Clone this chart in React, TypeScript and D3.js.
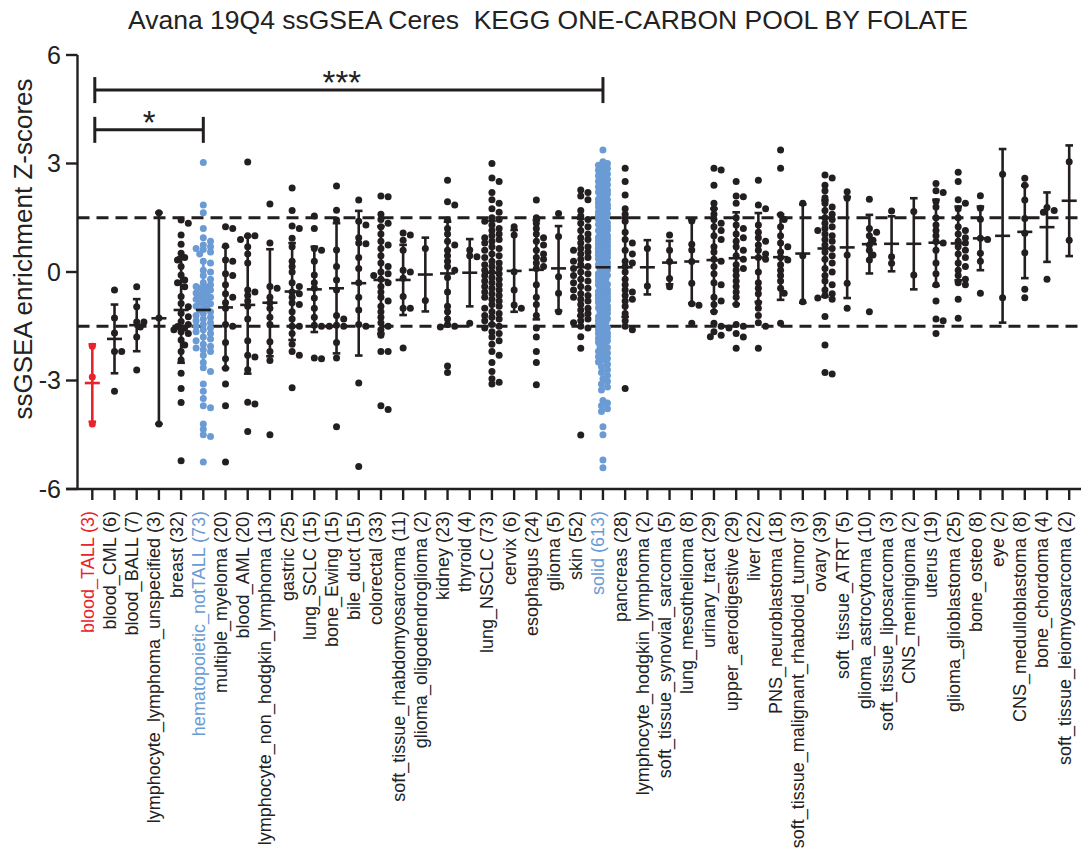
import * as d3 from 'd3'

const TITLE = 'Avana 19Q4 ssGSEA Ceres  KEGG ONE-CARBON POOL BY FOLATE'
const Y_LABEL = 'ssGSEA enrichment Z-scores'

const categories = [
  'blood_TALL', 'blood_CML', 'blood_BALL', 'lymphocyte_lymphoma_unspecified', 'breast',
  'hematopoietic_notTALL', 'multiple_myeloma', 'blood_AML', 'lymphocyte_non_hodgkin_lymphoma', 'gastric',
  'lung_SCLC', 'bone_Ewing', 'bile_duct', 'colorectal', 'soft_tissue_rhabdomyosarcoma',
  'glioma_oligodendroglioma', 'kidney', 'thyroid', 'lung_NSCLC', 'cervix',
  'esophagus', 'glioma', 'skin', 'solid', 'pancreas',
  'lymphocyte_hodgkin_lymphoma', 'soft_tissue_synovial_sarcoma', 'lung_mesothelioma', 'urinary_tract', 'upper_aerodigestive',
  'liver', 'PNS_neuroblastoma', 'soft_tissue_malignant_rhabdoid_tumor', 'ovary', 'soft_tissue_ATRT',
  'glioma_astrocytoma', 'soft_tissue_liposarcoma', 'CNS_meningioma', 'uterus', 'glioma_glioblastoma',
  'bone_osteo', 'eye', 'CNS_medulloblastoma', 'bone_chordoma', 'soft_tissue_leiomyosarcoma',
]
const counts = [
  3, 6, 7, 3, 32, 73, 20, 20, 13, 25, 15, 15, 15, 33, 11, 2, 23, 4, 73, 6, 24, 5, 52, 613, 28,
  2, 5, 8, 29, 29, 22, 18, 3, 39, 5, 10, 3, 2, 19, 25, 8, 2, 8, 4, 2,
]
const means = [
  -3.07, -1.85, -1.47, -1.28, -1.05, -1.05, -0.98, -0.91, -0.85, -0.54, -0.48, -0.45, -0.31, -0.22, -0.22,
  -0.07, -0.04, -0.02, -0.02, 0.03, 0.06, 0.1, 0.13, 0.13, 0.13, 0.13, 0.26, 0.29, 0.33, 0.38,
  0.4, 0.41, 0.51, 0.65, 0.68, 0.77, 0.78, 0.78, 0.81, 0.79, 0.93, 1.0, 1.11, 1.24, 1.97,
]
const sds = [
  1.07, 0.95, 0.72, 2.92, 1.46, 1.4, 1.68, 1.9, 1.48, 1.34, 1.18, 1.8, 2.0, 1.48, 0.97,
  1.02, 1.43, 0.93, 1.43, 1.13, 1.37, 1.17, 1.34, 1.4, 1.37, 0.75, 0.6, 1.16, 1.42, 1.27,
  1.23, 1.18, 1.36, 1.33, 1.4, 0.81, 0.76, 1.26, 1.19, 1.02, 0.88, 2.4, 1.28, 0.96, 1.53,
]

const solidValues = [
  3.37, 3.05, 3.0, 2.95, 2.9,
  2.86, 2.81, 2.76, 2.71, 2.66, 2.61, 2.56, 2.51, 2.46, 2.41, 2.36, 2.31, 2.26, 2.21, 2.16, 2.11, 2.06, 2.01,
  1.96, 1.91, 1.86, 1.81, 1.76, 1.71, 1.66, 1.61, 1.56, 1.51, 1.46, 1.41, 1.36, 1.31, 1.26, 1.21, 1.16, 1.11,
  1.06, 1.01, 0.96, 0.91, 0.86, 0.81, 0.76, 0.71, 0.66, 0.61, 0.56, 0.51, 0.46, 0.41, 0.36, 0.31, 0.26, 0.21,
  0.16, 0.11, 0.06, 0.01, -0.04, -0.09, -0.14, -0.19, -0.24, -0.29, -0.34, -0.39, -0.44, -0.49, -0.54, -0.59,
  -0.64, -0.69, -0.74, -0.79, -0.84, -0.89, -0.94, -0.99, -1.04, -1.09, -1.14, -1.19, -1.24, -1.29, -1.34,
  -1.39, -1.44, -1.49, -1.54, -1.59, -1.64, -1.69, -1.74, -1.79, -1.84, -1.89, -1.94, -1.99, -2.04, -2.09,
  -2.14, -2.19, -2.24, -2.29, -2.34, -2.39, -2.44, -2.49, -2.55, -2.62,
  2.2, 2.0, 1.8, 1.7, 1.6, 1.5, 1.4, 1.3, 1.2, 1.1, 1.0, 0.9, 0.8, 0.7, 0.6, 0.5, 0.4, 0.3, 0.2, 0.1, 0.0,
  -0.1, -0.2, -0.3, -0.4, -0.5, -0.6, -0.7, -0.8, -0.9, -1.0, -1.1, -1.2, -1.3, -1.4, -1.5, -1.7, -1.9,
  1.25, 1.15, 1.05, 0.95, 0.85, 0.75, 0.65, 0.55, 0.45, -0.35, -0.45, -0.55, -0.65, -0.75,
  -2.7, -2.78, -2.86, -2.95, -3.02, -3.1, -3.18, -3.26, -3.55, -3.62, -3.7, -3.78, -3.86, -4.28, -4.5, -5.2, -5.41,
]

const values: number[][] = [
  [-2.05, -2.9, -4.2],
  [-0.5, -1.27, -1.69, -2.2, -2.2, -3.3],
  [-0.41, -0.96, -1.38, -1.38, -1.52, -1.8, -2.71],
  [1.64, -1.27, -4.2],
  [1.44, 1.35, 1.02, 0.77, 0.52, 0.4, 0.33, 0.15, -0.08, -0.22, -0.3, -0.41, -0.68, -0.87, -0.96, -1.14,
    -1.24, -1.37, -1.45, -1.51, -1.55, -1.6, -1.65, -1.7, -1.88, -2.02, -2.2, -2.43, -2.8, -3.22, -3.61, -5.22],
  [3.03, 1.85, 1.64, 1.2, 0.95, 0.85, 0.75, 0.7, 0.65, 0.62, 0.55, 0.5, 0.3, 0.25, 0.05, 0.0, -0.1, -0.2,
    -0.3, -0.35, -0.4, -0.42, -0.45, -0.5, -0.55, -0.58, -0.6, -0.65, -0.7, -0.72, -0.75, -0.8, -0.85, -0.88,
    -0.9, -0.95, -1.0, -1.05, -1.1, -1.15, -1.2, -1.25, -1.3, -1.35, -1.4, -1.45, -1.5, -1.55, -1.6, -1.65,
    -1.7, -1.8, -1.85, -1.9, -2.0, -2.05, -2.1, -2.15, -2.2, -2.3, -2.5, -2.65, -2.75, -3.1, -3.3, -3.5, -3.7,
    -3.75, -4.2, -4.35, -4.5, -4.55, -5.25],
  [1.25, 1.2, 0.72, 0.33, 0.3, -0.05, -0.1, -0.35, -0.6, -0.7, -0.85, -1.0, -1.5, -1.95, -2.4, -2.66, -3.1,
    -3.7, -5.25, -1.45],
  [3.04, 1.0, 1.0, 0.9, 0.7, 0.5, 0.25, -0.5, -0.55, -0.65, -0.8, -0.95, -1.3, -1.9, -2.3, -2.35, -2.7, -3.6,
    -3.65, -4.41],
  [1.88, 0.8, -0.4, -0.45, -0.7, -0.85, -1.0, -1.25, -1.45, -1.93, -2.2, -2.45, -4.5],
  [2.32, 1.7, 1.27, 1.2, 0.93, 0.7, 0.3, 0.15, 0.0, -0.3, -0.4, -0.55, -0.6, -0.7, -0.85, -0.9, -1.1, -1.3,
    -1.5, -1.5, -1.7, -2.0, -2.2, -2.3, -3.2],
  [1.55, 1.2, 0.65, 0.6, 0.3, -0.08, -0.3, -0.45, -0.72, -1.0, -1.25, -1.47, -1.5, -2.38, -2.4],
  [2.38, 1.71, 1.44, 0.61, 0.15, -0.22, -0.5, -1.2, -1.3, -1.47, -1.5, -1.5, -1.95, -2.38, -4.28],
  [1.99, 1.4, 1.3, 0.95, 0.8, 0.78, 0.4, 0.1, -0.3, -0.7, -1.05, -1.45, -1.5, -3.07, -5.38],
  [2.1, 2.08, 1.6, 1.45, 1.35, 1.25, 1.05, 0.85, 0.75, 0.65, 0.45, 0.25, 0.15, -0.05, -0.1, -0.2, -0.3,
    -0.4, -0.55, -0.7, -0.8, -0.95, -1.1, -1.25, -1.4, -1.5, -1.6, -1.75, -2.2, -2.2, -3.7, -3.8, 0.0],
  [1.08, 1.02, 0.88, 0.6, 0.05, 0.0, -0.17, -0.68, -1.0, -1.0, -2.1],
  [0.65, -0.79],
  [2.54, 1.94, 1.85, 1.44, 1.2, 1.05, 0.85, 0.75, 0.6, 0.45, 0.3, 0.15, 0.05, -0.15, -0.55, -0.95, -1.1,
    -1.3, -1.45, -1.5, -1.52, -2.6, -2.78],
  [0.61, 0.45, 0.42, -1.42],
  [3.0, 2.6, 2.5, 2.2, 2.0, 1.9, 1.75, 1.65, 1.5, 1.45, 1.4, 1.3, 1.2, 1.15, 1.05, 1.0, 0.95, 0.9, 0.85,
    0.8, 0.7, 0.65, 0.6, 0.5, 0.45, 0.4, 0.3, 0.25, 0.2, 0.15, 0.1, 0.05, 0.0, -0.05, -0.1, -0.15, -0.2,
    -0.25, -0.3, -0.35, -0.4, -0.45, -0.5, -0.55, -0.6, -0.65, -0.7, -0.75, -0.8, -0.9, -0.95, -1.0, -1.1,
    -1.15, -1.2, -1.25, -1.3, -1.35, -1.45, -1.5, -1.55, -1.65, -1.7, -1.8, -1.9, -2.0, -2.2, -2.3, -2.5,
    -2.75, -2.95, -3.05, -3.1],
  [1.25, 1.02, 0.01, -0.5, -0.91, -1.0],
  [1.99, 1.5, 1.35, 1.2, 1.05, 0.95, 0.85, 0.75, 0.6, 0.5, 0.4, 0.35, 0.25, 0.15, 0.1, -0.35, -0.7, -0.9,
    -1.2, -1.55, -1.8, -2.2, -2.5, -3.12],
  [1.62, 0.98, -0.13, -0.59, -1.1],
  [2.27, 2.2, 2.1, 2.0, 1.7, 1.55, 1.45, 1.35, 1.25, 1.15, 1.05, 0.95, 0.9, 0.8, 0.7, 0.65, 0.6, 0.55, 0.5,
    0.4, 0.35, 0.3, 0.2, 0.15, 0.1, 0.0, -0.05, -0.1, -0.2, -0.25, -0.3, -0.4, -0.45, -0.5, -0.6, -0.65,
    -0.7, -0.75, -0.8, -0.9, -1.0, -1.05, -1.15, -1.2, -1.3, -1.35, -1.4, -1.5, -1.55, -1.79, -2.11, -4.51],
  solidValues,
  [2.87, 2.5, 2.13, 1.75, 1.6, 1.4, 1.1, 0.9, 0.8, 0.6, 0.5, 0.3, 0.25, 0.15, 0.0, -0.2, -0.35, -0.5, -0.55,
    -0.65, -0.75, -0.8, -0.95, -1.15, -1.35, -1.5, -1.6, -3.22],
  [0.65, -0.39],
  [1.02, 0.6, 0.29, -0.18, -0.41],
  [1.41, 0.77, 0.61, 0.29, -0.31, -0.88, -0.92, -1.42],
  [2.87, 2.82, 2.4, 1.9, 1.75, 1.6, 1.45, 1.35, 1.25, 1.15, 1.0, 0.9, 0.7, 0.55, 0.35, 0.3, 0.15, -0.05,
    -0.3, -0.35, -0.7, -0.8, -0.9, -1.1, -1.42, -1.5, -1.65, -1.75, -1.79],
  [2.5, 2.1, 2.08, 1.9, 1.5, 1.3, 1.2, 1.05, 0.95, 0.85, 0.7, 0.6, 0.45, 0.35, 0.2, 0.1, 0.05, -0.1, -0.25,
    -0.4, -0.55, -0.7, -0.9, -1.45, -1.5, -1.55, -1.7, -1.8, -2.11],
  [2.54, 1.85, 1.75, 1.3, 1.1, 0.95, 0.85, 0.75, 0.6, 0.5, 0.4, 0.35, 0.0, -0.3, -0.45, -0.6, -0.85, -1.0,
    -1.2, -1.4, -1.5, -2.11],
  [3.37, 2.87, 1.58, 1.45, 1.25, 1.0, 0.8, 0.7, 0.55, 0.4, 0.33, 0.2, 0.05, -0.1, -0.25, -0.45, -0.59, -1.42],
  [1.9, 0.45, -0.82],
  [2.68, 2.6, 2.4, 2.25, 2.05, 1.9, 1.8, 1.7, 1.6, 1.5, 1.45, 1.35, 1.25, 1.2, 1.15, 1.05, 1.0, 0.9, 0.85,
    0.75, 0.65, 0.55, 0.45, 0.35, 0.25, 0.1, 0.0, -0.1, -0.25, -0.35, -0.5, -0.6, -0.65, -0.72, -0.75,
    -1.23, -2.02, -2.78, -2.82],
  [2.22, 2.04, 0.47, -0.31, -1.0],
  [2.01, 1.2, 1.1, 1.0, 0.88, 0.75, 0.6, 0.47, 0.33, -1.1],
  [1.69, 0.42, 0.24],
  [1.67, -0.08],
  [2.45, 2.25, 2.2, 1.95, 1.8, 1.5, 1.3, 1.15, 1.0, 0.84, 0.8, 0.6, 0.25, -0.05, -0.35, -0.8, -1.3, -1.35, -1.7],
  [2.76, 2.5, 2.0, 1.9, 1.75, 1.5, 1.25, 1.15, 1.05, 0.95, 0.85, 0.8, 0.7, 0.6, 0.5, 0.4, 0.25, 0.15, 0.05,
    -0.1, -0.2, -0.3, -0.35, -0.75, -1.28],
  [2.11, 1.76, 1.46, 0.93, 0.9, 0.52, 0.3, -0.59],
  [2.7, -0.71],
  [2.59, 2.4, 1.99, 1.48, 1.07, 0.53, -0.48, -0.71],
  [1.78, 1.7, 1.65, -0.2],
  [3.05, 0.88],
]

const Y_TICKS = [-6, -3, 0, 3, 6]
const THRESHOLDS = [1.5, -1.5]
const redGroups = ['blood_TALL']
const blueGroups = ['hematopoietic_notTALL', 'solid']

// significance brackets
const bracketFrom = ['blood_TALL', 'blood_TALL']
const bracketTo = ['hematopoietic_notTALL', 'solid']
const bracketLevel = [3.93, 5.03]
const bracketLabel = ['*', '***']
const bracketLabelShift = [0, -7]

const W = 1082
const H = 861
const FONT = '"Liberation Sans", Arial, Helvetica, sans-serif'
const BLACK = '#231f20'
const RED = '#e8232b'
const BLUE = '#6b9bd4'
const R = 3.5

const x = d3.scalePoint<string>().domain(categories).range([92.3, 1069.2])
const y = d3.scaleLinear().domain([-6, 6]).range([489, 55])

function colorOf(c: string) {
  if (redGroups.includes(c)) return RED
  if (blueGroups.includes(c)) return BLUE
  return BLACK
}

// simple capped beeswarm, points may overlap once the column is full
function swarm(vals: number[], cx: number, step: number, maxOff: number) {
  const pts = vals.map(v => y(v)).sort((a, b) => a - b)
  const offs = [0]
  for (let k = 1; k * step <= maxOff + 0.01; k++) offs.push(k * step, -k * step)
  const placed: { x: number; y: number }[] = []
  for (const py of pts) {
    let best = 0
    let bestD = -1
    for (const o of offs) {
      let minD = Infinity
      for (const q of placed) {
        if (Math.abs(q.y - py) < 2 * R) {
          const d = Math.hypot(q.x - (cx + o), q.y - py)
          if (d < minD) minD = d
        }
      }
      if (minD >= 5.4) { best = o; break }
      if (minD > bestD) { bestD = minD; best = o }
    }
    placed.push({ x: cx + best, y: py })
  }
  return placed
}

export default function App() {
  const x0 = 77.5
  const xEnd = 1081
  return (
    <svg width={W} height={H} style={{ position: 'absolute', left: 0, top: 0, background: '#fff' }} fontFamily={FONT}>
      <text x={548} y={29} textAnchor="middle" fontSize={26.5} fill="#222" style={{ whiteSpace: 'pre' }}>{TITLE}</text>

      {/* threshold lines */}
      {THRESHOLDS.map(t => (
        <line key={t} x1={x0} x2={xEnd} y1={y(t)} y2={y(t)} stroke={BLACK} strokeWidth={3} strokeDasharray="12 7" />
      ))}

      {/* points */}
      {categories.map((c, i) => {
        const cx = x(c)!
        const isSolid = c === 'solid'
        const pts = swarm(values[i], cx, isSolid ? 1.5 : 3.6, isSolid ? 4.5 : 7.2)
        return (
          <g key={c} fill={colorOf(c)}>
            {pts.map((p, j) => <circle key={j} cx={p.x} cy={p.y} r={R} />)}
          </g>
        )
      })}

      {/* mean +/- SD */}
      {categories.map((c, i) => {
        const cx = x(c)!
        const m = means[i]
        const s = sds[i]
        const blue = blueGroups.includes(c)
        const col = blue ? BLUE : colorOf(c)
        return (
          <g key={c} stroke={col} strokeWidth={2.6}>
            <line x1={cx} x2={cx} y1={y(m + s)} y2={y(m - s)} />
            {!blue && <line x1={cx - 3.8} x2={cx + 3.8} y1={y(m + s)} y2={y(m + s)} />}
            {!blue && <line x1={cx - 3.8} x2={cx + 3.8} y1={y(m - s)} y2={y(m - s)} />}
            <line x1={cx - 7.5} x2={cx + 7.5} y1={y(m)} y2={y(m)} stroke={blue ? BLACK : col} />
          </g>
        )
      })}

      {/* y axis */}
      <line x1={x0} x2={x0} y1={y(6)} y2={y(-6)} stroke={BLACK} strokeWidth={2.4} />
      {Y_TICKS.map(t => (
        <g key={t}>
          <line x1={66} x2={x0} y1={y(t)} y2={y(t)} stroke={BLACK} strokeWidth={2.4} />
          <text x={61} y={y(t)} dy="0.35em" textAnchor="end" fontSize={25} fill="#222">{t}</text>
        </g>
      ))}
      <text transform={`translate(32,249) rotate(-90)`} textAnchor="middle" fontSize={26} fill="#222">{Y_LABEL}</text>

      {/* x axis */}
      <line x1={66} x2={xEnd} y1={y(-6)} y2={y(-6)} stroke={BLACK} strokeWidth={2.4} />
      {categories.map((c, i) => {
        const cx = x(c)!
        return (
          <g key={c}>
            <line x1={cx} x2={cx} y1={y(-6)} y2={y(-6) + 11} stroke={BLACK} strokeWidth={2.4} />
            <text transform={`translate(${cx + 1.5},511) rotate(-90)`} textAnchor="end" fontSize={18}
              fill={redGroups.includes(c) ? RED : blueGroups.includes(c) ? BLUE : '#222'}>
              {`${c} (${counts[i]})`}
            </text>
          </g>
        )
      })}

      {/* significance brackets */}
      {bracketFrom.map((f, i) => {
        const xa = x(f)! + 2.5
        const xb = x(bracketTo[i])!
        const yy = y(bracketLevel[i])
        return (
          <g key={i} stroke={BLACK} strokeWidth={3}>
            <line x1={xa} x2={xb} y1={yy} y2={yy} />
            <line x1={xa} x2={xa} y1={yy - 13} y2={yy + 13} />
            <line x1={xb} x2={xb} y1={yy - 13} y2={yy + 13} />
            <text x={(xa + xb) / 2 + bracketLabelShift[i]} y={yy + 4} textAnchor="middle" fontSize={33}
              stroke="none" fill="#222">{bracketLabel[i]}</text>
          </g>
        )
      })}
    </svg>
  )
}
